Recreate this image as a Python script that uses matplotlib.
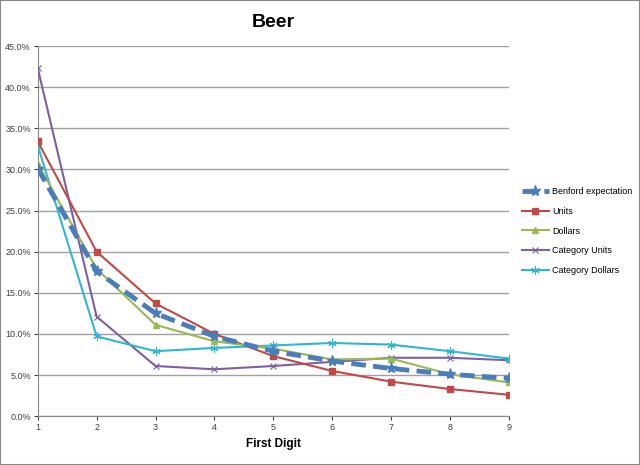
import matplotlib
matplotlib.use("Agg")
import matplotlib.pyplot as plt
from matplotlib.ticker import FuncFormatter

plt.rcParams['font.family'] = ['Liberation Sans', 'DejaVu Sans']

# ---- data (percent, by first digit) ----
digits = [1, 2, 3, 4, 5, 6, 7, 8, 9]
benford = [30.1, 17.6, 12.5, 9.7, 7.9, 6.7, 5.8, 5.1, 4.6]
units = [33.4, 20.0, 13.7, 10.0, 7.3, 5.5, 4.2, 3.3, 2.6]
dollars = [30.7, 17.9, 11.1, 9.1, 8.2, 6.9, 7.0, 5.1, 4.1]
cat_units = [42.3, 12.1, 6.1, 5.7, 6.1, 6.6, 7.1, 7.1, 6.8]
cat_dollars = [32.9, 9.7, 7.9, 8.3, 8.6, 8.9, 8.7, 7.9, 7.0]

fig = plt.figure(figsize=(6.4, 4.65), dpi=100)
ax = fig.add_axes([0.059, 0.105, 0.736, 0.796])

ax.plot(digits, benford, color='#4a7ebb', lw=3.5, ls=(0, (3, 1.5)),
        marker='*', markersize=8, label='Benford expectation', zorder=5)
ax.plot(digits, units, color='#be4b48', lw=1.5, marker='s', markersize=5,
        label='Units', zorder=4)
ax.plot(digits, dollars, color='#98b954', lw=1.5, marker='^', markersize=5,
        label='Dollars', zorder=4)
ax.plot(digits, cat_units, color='#7d60a0', lw=1.5, marker='x', markersize=5,
        markeredgewidth=0.8, label='Category Units', zorder=3)
ax.plot(digits, cat_dollars, color='#31b6d0', lw=1.5, marker=(6, 2, 0), markersize=6,
        markeredgewidth=0.8, label='Category Dollars', zorder=3)

ax.set_xlim(1, 9)
ax.set_ylim(0, 45)
ax.set_xticks(digits)
ax.set_yticks(range(0, 46, 5))
ax.yaxis.set_major_formatter(FuncFormatter(lambda v, p: f'{v:.1f}%'))
ax.tick_params(labelsize=6.5, colors='#404040', length=3, pad=2)
ax.grid(axis='y', color='#a0a0a0', lw=1)
ax.set_axisbelow(True)
for s in ['top', 'right']:
    ax.spines[s].set_visible(False)
for s in ['left', 'bottom']:
    ax.spines[s].set_color('#888888')

ax.set_title('Beer', fontsize=14, fontweight='bold', pad=14)
ax.set_xlabel('First Digit', fontsize=8.5, fontweight='bold', labelpad=4)

ax.legend(loc='center left', bbox_to_anchor=(1.01, 0.5), frameon=False,
          fontsize=6.5, handlelength=3, labelspacing=1.2, handletextpad=0.4)

fig.patches.append(plt.Rectangle((0, 0), 1, 1, transform=fig.transFigure,
                                 fill=False, edgecolor='#888888', lw=1.5))

fig.savefig('out.png', dpi=100)
